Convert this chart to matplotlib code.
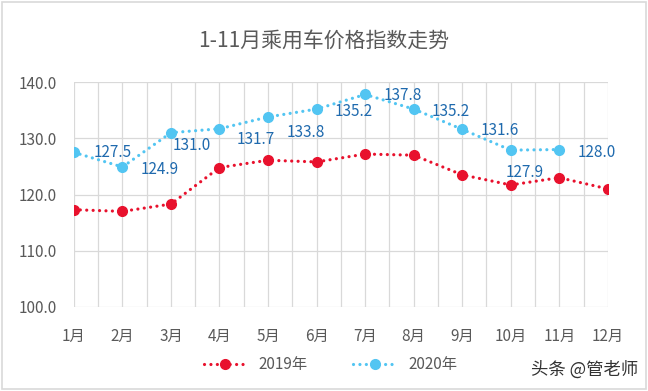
import matplotlib.pyplot as plt
from matplotlib.ticker import MultipleLocator
from matplotlib.patches import Rectangle

plt.rcParams['font.family'] = ['Noto Sans CJK SC', 'DejaVu Sans']

months = ['1月', '2月', '3月', '4月', '5月', '6月', '7月', '8月', '9月', '10月', '11月', '12月']
idx_2019 = [117.3, 117.0, 118.3, 124.8, 126.1, 125.8, 127.2, 127.0, 123.5, 121.7, 123.0, 121.0]
idx_2020 = [127.5, 124.9, 131.0, 131.7, 133.8, 135.2, 137.8, 135.2, 131.6, 127.9, 128.0]

# label offsets in points (dx, dy) for the 2020 data labels
label_offsets = [(28, 0), (27, -2), (15, -9), (26, -8), (27, -11), (27, -2),
                 (27, -1), (27, -2), (27, -1), (10, -16), (27, -2)]

grey = '#595959'
red = '#E8112D'
blue = '#52C5F2'
dots = (0, (0.01, 2.0))

fig = plt.figure(figsize=(6.48, 3.91), dpi=100)
fig.patches.append(Rectangle((0.003, 0.005), 0.994, 0.99, transform=fig.transFigure,
                             fill=False, edgecolor='#D9D9D9', linewidth=1.2))
ax = fig.add_axes([0.114, 0.215, 0.824, 0.575])

x = list(range(len(months)))
ax.plot(x, idx_2019, color=red, linestyle=dots, linewidth=2.3, dash_capstyle='round',
        marker='o', markersize=7, label='2019年', zorder=3)
ax.plot(x[:len(idx_2020)], idx_2020, color=blue, linestyle=dots, linewidth=2.3,
        dash_capstyle='round', marker='o', markersize=7, label='2020年', zorder=3)

for i, v in enumerate(idx_2020):
    dx, dy = label_offsets[i]
    ax.annotate(f'{v:.1f}', (i, v), xytext=(dx, dy), textcoords='offset points',
                ha='center', va='center', fontsize=11, color='#1F6AAE', zorder=4)

ax.set_xlim(0, len(months) - 1)
ax.set_ylim(100, 140)
ax.set_yticks([100, 110, 120, 130, 140])
ax.set_yticklabels([f'{t:.1f}' for t in [100, 110, 120, 130, 140]])
ax.set_xticks(x)
ax.set_xticklabels(months)
ax.xaxis.set_minor_locator(MultipleLocator(0.5))
ax.grid(True, which='both', axis='x', color='#D9D9D9', linewidth=0.9)
ax.grid(True, which='major', axis='y', color='#D9D9D9', linewidth=0.9)
for s in ax.spines.values():
    s.set_visible(False)
ax.tick_params(axis='both', which='both', length=0, colors=grey, labelsize=11)
ax.tick_params(axis='x', pad=15)
ax.tick_params(axis='y', pad=12)

fig.text(0.5, 0.895, '1-11月乘用车价格指数走势', ha='center', va='center',
         fontsize=15, color=grey)

leg = fig.legend(loc='center', bbox_to_anchor=(0.51, 0.068), ncol=2, frameon=False,
                 fontsize=11, handlelength=2.8, columnspacing=3.0, handletextpad=0.8)
for t in leg.get_texts():
    t.set_color(grey)

fig.text(0.985, 0.055, '头条 @管老师', ha='right', va='center', fontsize=12.5, color='#333333')

fig.savefig('out.png', dpi=100)
